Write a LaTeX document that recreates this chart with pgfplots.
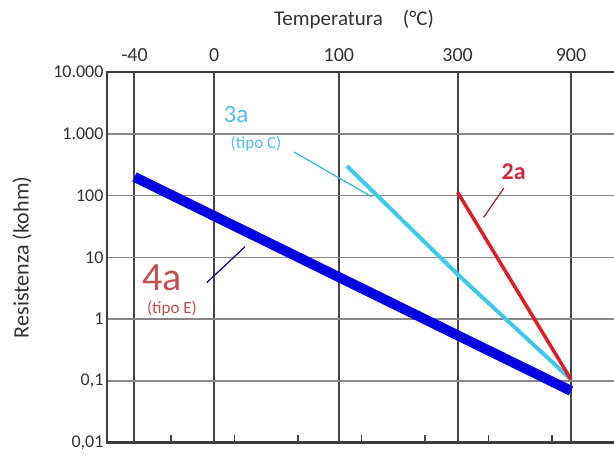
\documentclass[border=0pt]{standalone}
\usepackage{fontspec}
\setmainfont{Carlito}
\usepackage{pgfplots}
\pgfplotsset{compat=1.18}
\definecolor{blue4}{RGB}{0,0,225}
\definecolor{cyan3}{RGB}{64,200,232}
\definecolor{red2}{RGB}{220,30,40}
\definecolor{lab4}{RGB}{192,80,77}
\definecolor{lab2}{RGB}{205,40,60}
\definecolor{lab3}{RGB}{80,190,230}
\definecolor{vgrid}{RGB}{70,70,70}
\definecolor{hgrid}{RGB}{135,135,135}
\definecolor{axisgray}{RGB}{60,60,60}
\definecolor{txt}{RGB}{50,50,50}
\begin{document}
\begin{tikzpicture}
\begin{axis}[
  scale only axis, width=507pt, height=370.7pt,
  xmin=-4.50563, xmax=-0.5135,
  ymode=log, ymin=0.01, ymax=10000,
  clip=false,
  axis line style={draw=none},
  /pgf/number format/assume math mode=true,
  xtick={-4.28909,-3.66099,-2.67989,-1.74474,-0.852406},
  xticklabels={\textnormal{-40},\textnormal{0},\textnormal{100},\textnormal{300},\textnormal{900}},
  xticklabel pos=upper,
  xtick style={draw=none},
  xminorticks=false, yminorticks=false,
  xmajorgrids, ymajorgrids,
  x grid style={vgrid, line width=2pt},
  y grid style={hgrid, line width=1.5pt},
  ytick={0.01,0.1,1,10,100,1000,10000},
  yticklabels={\textnormal{0,01},\textnormal{0,1},\textnormal{1},\textnormal{10},\textnormal{100},\textnormal{1.000},\textnormal{10.000}},
  ytick style={draw=none},
  xticklabel style={font=\fontsize{20}{24}\selectfont, text=txt, yshift=7pt},
  yticklabel style={font=\fontsize{18}{22}\selectfont, text=txt},
]
\addplot[blue4, line width=10pt] coordinates {(-4.28909,200) (-0.852406,0.069)};
\addplot[cyan3, line width=4pt] coordinates {(-2.61586,301) (-1.74474,5.3) (-0.852406,0.1057)};
\addplot[red2, line width=3.5pt] coordinates {(-1.74474,113) (-0.852406,0.1057)};
\coordinate (tl) at (rel axis cs:0,1);
\coordinate (br) at (rel axis cs:1,0);
\coordinate (lm) at (rel axis cs:0,0.5);
\pgfplotsinvokeforeach{-4,-3.5,-3,-2.5,-2,-1.5,-1}{
  \draw[vgrid, line width=1.5pt] (axis cs:#1,0.01) -- ++(0pt,8pt);
}
\draw[axisgray, line width=2.4pt] (rel axis cs:1,1) -- (rel axis cs:0,1) -- (rel axis cs:0,0) -- (rel axis cs:1,0);
\end{axis}
% annotations (offsets in px from top-left corner of the plot area)
\node[text=txt, font=\fontsize{21}{24}\selectfont] at ([shift={(247pt,52pt)}]tl) {Temperatura\hspace{20pt}(°C)};
\node[text=txt, font=\fontsize{22}{26}\selectfont, rotate=90] at ([shift={(-85pt,0pt)}]lm) {Resistenza (kohm)};
\node[text=lab3, font=\fontsize{25}{28}\selectfont] at ([shift={(129pt,-42pt)}]tl) {3a};
\node[text=lab3, font=\fontsize{17}{20}\selectfont] at ([shift={(149pt,-72pt)}]tl) {(tipo C)};
\draw[cyan3!80!teal, line width=1.2pt] ([shift={(187pt,-80pt)}]tl) -- ([shift={(265pt,-125pt)}]tl);
\node[text=lab2, font=\bfseries\fontsize{24}{28}\selectfont] at ([shift={(406.7pt,-99.7pt)}]tl) {2a};
\draw[lab2!80!black, line width=1.2pt] ([shift={(396.7pt,-116.3pt)}]tl) -- ([shift={(376.7pt,-145.3pt)}]tl);
\node[text=lab4, font=\fontsize{40}{44}\selectfont] at ([shift={(55pt,-206pt)}]tl) {4a};
\node[text=lab4, font=\fontsize{17}{20}\selectfont] at ([shift={(65pt,-237pt)}]tl) {(tipo E)};
\draw[blue!50!black, line width=1.2pt] ([shift={(99.7pt,-210.7pt)}]tl) -- ([shift={(138pt,-174.7pt)}]tl);
\pgfresetboundingbox
\path[use as bounding box] ([shift={(-107pt,72pt)}]tl) rectangle ([shift={(0pt,-12.3pt)}]br);
\end{tikzpicture}
\end{document}
